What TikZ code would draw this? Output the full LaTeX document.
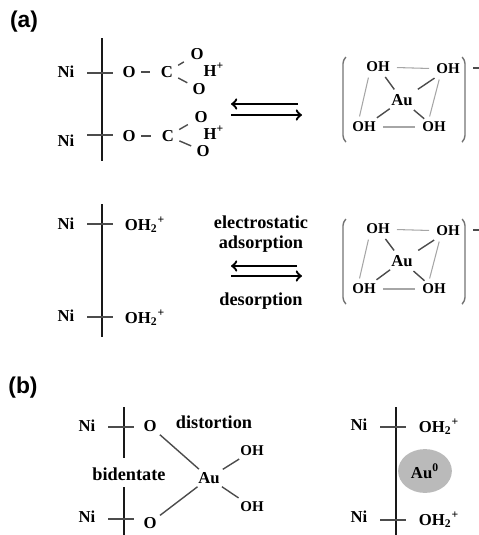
\documentclass[tikz,border=0pt]{standalone}
\usepackage{fontspec}
\setmainfont{Liberation Serif}
\setsansfont{Liberation Sans}
\usetikzlibrary{arrows, shapes, positioning}
\tikzset{
    atom/.style={font=\bfseries\fontsize{9.5}{10}\selectfont, inner sep=1pt},
    small/.style={font=\bfseries\fontsize{8.5}{10}\selectfont, inner sep=1pt},
    word/.style={font=\bfseries\fontsize{10.4}{12}\selectfont, inner sep=1pt},
    tag/.style={font=\sffamily\bfseries\fontsize{13}{15}\selectfont, inner sep=0pt},
    bar/.style={line width=1.7pt, black!90},
    tick/.style={line width=0.7pt, black!70},
    bond/.style={line width=0.8pt, black!70},
    ring/.style={line width=0.6pt, black!35},
    brack/.style={line width=0.8pt, black!55, rounded corners=2pt},
    eq/.style={->, line width=1.3pt, black}
}
\begin{document}
\begin{tikzpicture}[x=0.02cm, y=-0.02cm]
            \useasboundingbox (0, 0) rectangle (479, 535);

            % (a) top
            \node[tag] (a) at (24, 22) {(a)};
            \coordinate (bar1a) at (102, 38);
            \coordinate (bar1b) at (102, 161);
            \coordinate (tk1a) at (87, 73);
            \coordinate (tk1b) at (113, 73);
            \coordinate (tk2a) at (87, 135);
            \coordinate (tk2b) at (113, 135);
            \node[atom] (ni1) at (66, 72) {Ni};
            \node[atom] (ni2) at (66, 141) {Ni};
            \node[atom] (o1) at (129, 72) {O};
            \node[atom] (c1) at (167, 72) {C};
            \node[atom] (o1u) at (197, 54) {O};
            \node[atom] (o1d) at (199, 89) {O};
            \node[atom] (h1) at (214, 70) {H\textsuperscript{+}};
            \node[atom] (o2) at (129, 136) {O};
            \node[atom] (c2) at (168, 136) {C};
            \node[atom] (o2u) at (201, 117) {O};
            \node[atom] (o2d) at (203, 151) {O};
            \node[atom] (h2) at (214, 133) {H\textsuperscript{+}};

            \draw[bar] (bar1a) -- (bar1b);
            \draw[tick] (tk1a) -- (tk1b);
            \draw[tick] (tk2a) -- (tk2b);
            \draw[bond, shorten <=2pt, shorten >=5pt] (o1) -- (c1);
            \draw[bond, shorten <=2pt, shorten >=5pt] (o2) -- (c2);
            \draw[bond, shorten <=2pt, shorten >=3pt] (c1) -- (o1u);
            \draw[bond, shorten <=2pt, shorten >=2pt] (c1) -- (o1d);
            \draw[bond, shorten <=2pt, shorten >=3pt] (c2) -- (o2u);
            \draw[bond, shorten <=2pt, shorten >=2pt] (c2) -- (o2d);

            % first equilibrium
            \coordinate (eq1a) at (298, 104);
            \coordinate (eq1b) at (231, 104);
            \coordinate (eq1c) at (231, 115);
            \coordinate (eq1d) at (302, 115);
            \draw[eq] (eq1a) -- (eq1b);
            \draw[eq] (eq1c) -- (eq1d);

            % first complex
            \node[small] (oh1) at (378, 67) {OH};
            \node[small] (oh2) at (448, 69) {OH};
            \node[small] (oh3) at (364, 127) {OH};
            \node[small] (oh4) at (434, 127) {OH};
            \node[atom] (au1) at (402, 100) {Au};
            \draw[ring, shorten <=3pt, shorten >=3pt] (oh1) -- (oh2);
            \draw[ring, shorten <=3pt, shorten >=3pt] (oh3) -- (oh4);
            \draw[ring, shorten <=2pt, shorten >=2pt] ([xshift=-5pt]oh1.south) -- ([xshift=-3pt]oh3.north);
            \draw[ring, shorten <=2pt, shorten >=2pt] ([xshift=-4.5pt]oh2.south) -- ([xshift=-3pt]oh4.north);
            \draw[bond, shorten <=2pt, shorten >=2pt] (oh1) -- (au1);
            \draw[bond, shorten <=2pt, shorten >=3pt] (oh2) -- (au1);
            \draw[bond, shorten <=2pt, shorten >=1pt] (oh3) -- (au1);
            \draw[bond, shorten <=1pt, shorten >=2pt] (oh4) -- (au1);
            \draw[brack] (346, 57) -- (343, 60) -- (343, 139) -- (346, 142);
            \draw[brack] (462, 57) -- (465, 60) -- (465, 139) -- (462, 142);
            \coordinate (neg1a) at (473, 68);
            \coordinate (neg1b) at (479, 68);
            \draw[bond] (neg1a) -- (neg1b);

            % (a) bottom
            \coordinate (bar2a) at (102, 204);
            \coordinate (bar2b) at (102, 337);
            \coordinate (tk3a) at (87, 224);
            \coordinate (tk3b) at (113, 224);
            \coordinate (tk4a) at (87, 317);
            \coordinate (tk4b) at (113, 317);
            \node[atom] (ni3) at (66, 224) {Ni};
            \node[atom] (ni4) at (66, 316) {Ni};
            \node[atom] (w1) at (145, 225) {OH\textsubscript{2}\textsuperscript{+}};
            \node[atom] (w2) at (145, 318) {OH\textsubscript{2}\textsuperscript{+}};
            \draw[bar] (bar2a) -- (bar2b);
            \draw[tick] (tk3a) -- (tk3b);
            \draw[tick] (tk4a) -- (tk4b);

            % second equilibrium
            \node[word] (elec) at (261, 222) {electrostatic};
            \node[word] (ads) at (261, 244) {adsorption};
            \node[word] (des) at (261, 301) {desorption};
            \coordinate (eq2a) at (297, 266);
            \coordinate (eq2b) at (231, 266);
            \coordinate (eq2c) at (231, 276);
            \coordinate (eq2d) at (302, 276);
            \draw[eq] (eq2a) -- (eq2b);
            \draw[eq] (eq2c) -- (eq2d);

            % second complex
            \node[small] (oh5) at (378, 229) {OH};
            \node[small] (oh6) at (448, 231) {OH};
            \node[small] (oh7) at (364, 289) {OH};
            \node[small] (oh8) at (434, 289) {OH};
            \node[atom] (au2) at (402, 261) {Au};
            \draw[ring, shorten <=3pt, shorten >=3pt] (oh5) -- (oh6);
            \draw[ring, shorten <=3pt, shorten >=3pt] (oh7) -- (oh8);
            \draw[ring, shorten <=2pt, shorten >=2pt] ([xshift=-5pt]oh5.south) -- ([xshift=-3pt]oh7.north);
            \draw[ring, shorten <=2pt, shorten >=2pt] ([xshift=-4.5pt]oh6.south) -- ([xshift=-3pt]oh8.north);
            \draw[bond, shorten <=2pt, shorten >=2pt] (oh5) -- (au2);
            \draw[bond, shorten <=2pt, shorten >=3pt] (oh6) -- (au2);
            \draw[bond, shorten <=2pt, shorten >=1pt] (oh7) -- (au2);
            \draw[bond, shorten <=1pt, shorten >=2pt] (oh8) -- (au2);
            \draw[brack] (346, 219) -- (343, 222) -- (343, 301) -- (346, 304);
            \draw[brack] (462, 219) -- (465, 222) -- (465, 301) -- (462, 304);
            \coordinate (neg2a) at (473, 230);
            \coordinate (neg2b) at (479, 230);
            \draw[bond] (neg2a) -- (neg2b);

            % (b) left
            \node[tag] (b) at (23, 388) {(b)};
            \coordinate (bar3a) at (124, 407);
            \coordinate (bar3b) at (124, 458);
            \coordinate (bar4a) at (124, 487);
            \coordinate (bar4b) at (124, 535);
            \coordinate (tk5a) at (108, 427);
            \coordinate (tk5b) at (134, 427);
            \coordinate (tk6a) at (108, 519);
            \coordinate (tk6b) at (134, 519);
            \node[atom] (ni5) at (87, 426) {Ni};
            \node[atom] (ni6) at (87, 517) {Ni};
            \node[atom] (o3) at (150, 426) {O};
            \node[atom] (o4) at (150, 523) {O};
            \node[word] (dist) at (214, 422) {distortion};
            \node[word] (bid) at (129, 474) {bidentate};
            \node[atom] (au3) at (209, 478) {Au};
            \node[small] (oh9) at (252, 451) {OH};
            \node[small] (oh10) at (252, 507) {OH};
            \draw[bar] (bar3a) -- (bar3b);
            \draw[bar] (bar4a) -- (bar4b);
            \draw[tick] (tk5a) -- (tk5b);
            \draw[tick] (tk6a) -- (tk6b);
            \draw[bond, shorten <=1pt, shorten >=1pt] (o3) -- (au3);
            \draw[bond, shorten <=1pt, shorten >=1pt] (o4) -- (au3);
            \draw[bond, shorten <=1pt, shorten >=1pt] (au3) -- (oh9);
            \draw[bond, shorten <=1pt, shorten >=2pt] (au3) -- (oh10);

            % (b) right
            \coordinate (bar5a) at (396, 407);
            \coordinate (bar5b) at (396, 535);
            \coordinate (tk7a) at (380, 427);
            \coordinate (tk7b) at (406, 427);
            \coordinate (tk8a) at (380, 520);
            \coordinate (tk8b) at (406, 520);
            \draw[bar] (bar5a) -- (bar5b);
            \draw[tick] (tk7a) -- (tk7b);
            \draw[tick] (tk8a) -- (tk8b);
            \node[atom] (ni7) at (359, 425) {Ni};
            \node[atom] (ni8) at (359, 517) {Ni};
            \node[atom] (w3) at (439, 427) {OH\textsubscript{2}\textsuperscript{+}};
            \node[atom] (w4) at (439, 520) {OH\textsubscript{2}\textsuperscript{+}};
            \node[ellipse, fill=black!27, minimum width=54*0.567pt, minimum height=44*0.567pt, inner sep=0pt] (blob) at (425, 471) {};
            \node[atom] (au4) at (blob) {Au\textsuperscript{0}};
        \end{tikzpicture}
\end{document}
